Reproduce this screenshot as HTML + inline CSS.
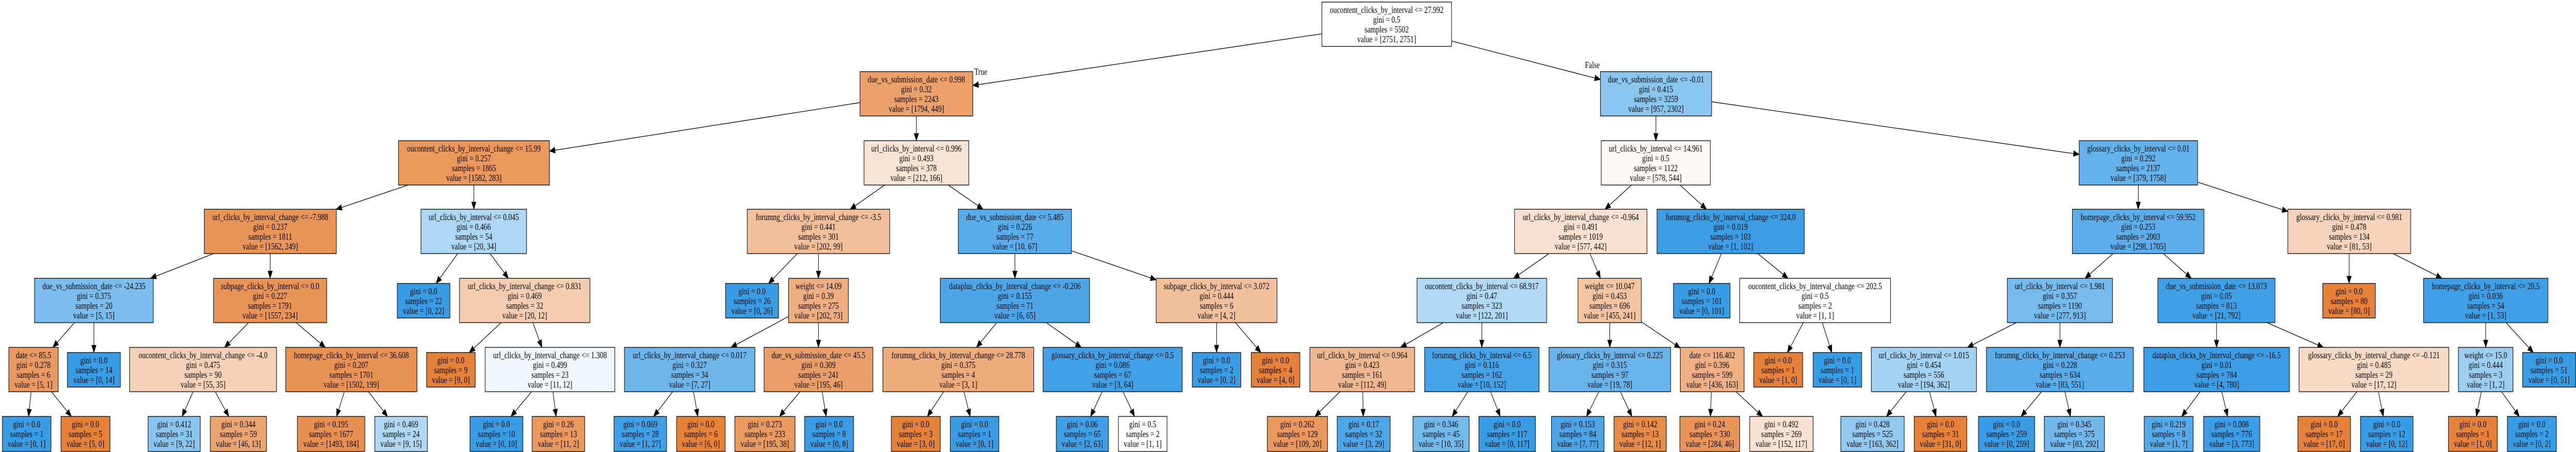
<!DOCTYPE html>
<html><head><meta charset="utf-8">
<style>
html,body{margin:0;padding:0;background:#fff;width:100%;height:100%;overflow:hidden;}
#s{display:block;position:absolute;left:0;top:0;width:100vw;height:100vh;}
svg text{font-family:"Liberation Serif","Times New Roman",serif;font-size:17.5px;text-anchor:middle;fill:#000;}
svg rect{stroke:#000;stroke-width:1.3;}
</style></head><body>
<svg id="s" xmlns="http://www.w3.org/2000/svg" viewBox="0 0 6419 877" preserveAspectRatio="none">
<rect x="0" y="0" width="6419" height="877" fill="#fff" style="stroke:none"/>
<g id="edges"></g>
<text x="2444" y="145">True</text>
<text x="3968" y="132">False</text>
<g id="nodes">
<svg id="n0" x="3294" y="4" width="323" height="86" overflow="visible"><rect width="100%" height="100%" fill="rgb(255,255,255)"/><text><tspan x="50%" y="21">oucontent_clicks_by_interval &lt;= 27.992</tspan><tspan x="50%" y="40">gini = 0.5</tspan><tspan x="50%" y="59">samples = 5502</tspan><tspan x="50%" y="78">value = [2751, 2751]</tspan></text></svg>
<svg id="n1" x="2143" y="139" width="281" height="86" overflow="visible"><rect width="100%" height="100%" fill="rgb(236,160,106)"/><text><tspan x="50%" y="21">due_vs_submission_date &lt;= 0.998</tspan><tspan x="50%" y="40">gini = 0.32</tspan><tspan x="50%" y="59">samples = 2243</tspan><tspan x="50%" y="78">value = [1794, 449]</tspan></text></svg>
<svg id="n2" x="993" y="273" width="376" height="86" overflow="visible"><rect width="100%" height="100%" fill="rgb(234,152,92)"/><text><tspan x="50%" y="21">oucontent_clicks_by_interval_change &lt;= 15.99</tspan><tspan x="50%" y="40">gini = 0.257</tspan><tspan x="50%" y="59">samples = 1865</tspan><tspan x="50%" y="78">value = [1582, 283]</tspan></text></svg>
<svg id="n3" x="509" y="406" width="329" height="86" overflow="visible"><rect width="100%" height="100%" fill="rgb(233,149,88)"/><text><tspan x="50%" y="21">url_clicks_by_interval_change &lt;= -7.988</tspan><tspan x="50%" y="40">gini = 0.237</tspan><tspan x="50%" y="59">samples = 1811</tspan><tspan x="50%" y="78">value = [1562, 249]</tspan></text></svg>
<svg id="n4" x="86" y="540" width="296" height="86" overflow="visible"><rect width="100%" height="100%" fill="rgb(123,190,238)"/><text><tspan x="50%" y="21">due_vs_submission_date &lt;= -24.235</tspan><tspan x="50%" y="40">gini = 0.375</tspan><tspan x="50%" y="59">samples = 20</tspan><tspan x="50%" y="78">value = [5, 15]</tspan></text></svg>
<svg id="n5" x="22" y="674" width="123" height="86" overflow="visible"><rect width="100%" height="100%" fill="rgb(234,154,97)"/><text><tspan x="50%" y="21">date &lt;= 85.5</tspan><tspan x="50%" y="40">gini = 0.278</tspan><tspan x="50%" y="59">samples = 6</tspan><tspan x="50%" y="78">value = [5, 1]</tspan></text></svg>
<svg id="n6" x="6" y="808" width="121" height="68" overflow="visible"><rect width="100%" height="100%" fill="rgb(57,157,229)"/><text><tspan x="50%" y="21">gini = 0.0</tspan><tspan x="50%" y="40">samples = 1</tspan><tspan x="50%" y="59">value = [0, 1]</tspan></text></svg>
<svg id="n7" x="152" y="808" width="122" height="68" overflow="visible"><rect width="100%" height="100%" fill="rgb(229,129,57)"/><text><tspan x="50%" y="21">gini = 0.0</tspan><tspan x="50%" y="40">samples = 5</tspan><tspan x="50%" y="59">value = [5, 0]</tspan></text></svg>
<svg id="n8" x="168" y="684" width="132" height="67" overflow="visible"><rect width="100%" height="100%" fill="rgb(57,157,229)"/><text><tspan x="50%" y="21">gini = 0.0</tspan><tspan x="50%" y="40">samples = 14</tspan><tspan x="50%" y="59">value = [0, 14]</tspan></text></svg>
<svg id="n9" x="532" y="540" width="282" height="86" overflow="visible"><rect width="100%" height="100%" fill="rgb(233,148,87)"/><text><tspan x="50%" y="21">subpage_clicks_by_interval &lt;= 0.0</tspan><tspan x="50%" y="40">gini = 0.227</tspan><tspan x="50%" y="59">samples = 1791</tspan><tspan x="50%" y="78">value = [1557, 234]</tspan></text></svg>
<svg id="n10" x="323" y="674" width="366" height="86" overflow="visible"><rect width="100%" height="100%" fill="rgb(246,209,183)"/><text><tspan x="50%" y="21">oucontent_clicks_by_interval_change &lt;= -4.0</tspan><tspan x="50%" y="40">gini = 0.475</tspan><tspan x="50%" y="59">samples = 90</tspan><tspan x="50%" y="78">value = [55, 35]</tspan></text></svg>
<svg id="n11" x="369" y="808" width="130" height="68" overflow="visible"><rect width="100%" height="100%" fill="rgb(138,197,240)"/><text><tspan x="50%" y="21">gini = 0.412</tspan><tspan x="50%" y="40">samples = 31</tspan><tspan x="50%" y="59">value = [9, 22]</tspan></text></svg>
<svg id="n12" x="524" y="808" width="140" height="68" overflow="visible"><rect width="100%" height="100%" fill="rgb(236,165,113)"/><text><tspan x="50%" y="21">gini = 0.344</tspan><tspan x="50%" y="40">samples = 59</tspan><tspan x="50%" y="59">value = [46, 13]</tspan></text></svg>
<svg id="n13" x="712" y="674" width="327" height="86" overflow="visible"><rect width="100%" height="100%" fill="rgb(232,146,83)"/><text><tspan x="50%" y="21">homepage_clicks_by_interval &lt;= 36.608</tspan><tspan x="50%" y="40">gini = 0.207</tspan><tspan x="50%" y="59">samples = 1701</tspan><tspan x="50%" y="78">value = [1502, 199]</tspan></text></svg>
<svg id="n14" x="741" y="808" width="168" height="68" overflow="visible"><rect width="100%" height="100%" fill="rgb(232,144,81)"/><text><tspan x="50%" y="21">gini = 0.195</tspan><tspan x="50%" y="40">samples = 1677</tspan><tspan x="50%" y="59">value = [1493, 184]</tspan></text></svg>
<svg id="n15" x="934" y="808" width="131" height="68" overflow="visible"><rect width="100%" height="100%" fill="rgb(176,216,245)"/><text><tspan x="50%" y="21">gini = 0.469</tspan><tspan x="50%" y="40">samples = 24</tspan><tspan x="50%" y="59">value = [9, 15]</tspan></text></svg>
<svg id="n16" x="1049" y="406" width="263" height="86" overflow="visible"><rect width="100%" height="100%" fill="rgb(173,215,244)"/><text><tspan x="50%" y="21">url_clicks_by_interval &lt;= 0.045</tspan><tspan x="50%" y="40">gini = 0.466</tspan><tspan x="50%" y="59">samples = 54</tspan><tspan x="50%" y="78">value = [20, 34]</tspan></text></svg>
<svg id="n17" x="990" y="550" width="131" height="67" overflow="visible"><rect width="100%" height="100%" fill="rgb(57,157,229)"/><text><tspan x="50%" y="21">gini = 0.0</tspan><tspan x="50%" y="40">samples = 22</tspan><tspan x="50%" y="59">value = [0, 22]</tspan></text></svg>
<svg id="n18" x="1145" y="540" width="325" height="86" overflow="visible"><rect width="100%" height="100%" fill="rgb(245,205,176)"/><text><tspan x="50%" y="21">url_clicks_by_interval_change &lt;= 0.831</tspan><tspan x="50%" y="40">gini = 0.469</tspan><tspan x="50%" y="59">samples = 32</tspan><tspan x="50%" y="78">value = [20, 12]</tspan></text></svg>
<svg id="n19" x="1063" y="684" width="121" height="67" overflow="visible"><rect width="100%" height="100%" fill="rgb(229,129,57)"/><text><tspan x="50%" y="21">gini = 0.0</tspan><tspan x="50%" y="40">samples = 9</tspan><tspan x="50%" y="59">value = [9, 0]</tspan></text></svg>
<svg id="n20" x="1209" y="674" width="323" height="86" overflow="visible"><rect width="100%" height="100%" fill="rgb(239,247,253)"/><text><tspan x="50%" y="21">url_clicks_by_interval_change &lt;= 1.308</tspan><tspan x="50%" y="40">gini = 0.499</tspan><tspan x="50%" y="59">samples = 23</tspan><tspan x="50%" y="78">value = [11, 12]</tspan></text></svg>
<svg id="n21" x="1171" y="808" width="132" height="68" overflow="visible"><rect width="100%" height="100%" fill="rgb(57,157,229)"/><text><tspan x="50%" y="21">gini = 0.0</tspan><tspan x="50%" y="40">samples = 10</tspan><tspan x="50%" y="59">value = [0, 10]</tspan></text></svg>
<svg id="n22" x="1326" y="808" width="131" height="68" overflow="visible"><rect width="100%" height="100%" fill="rgb(234,152,93)"/><text><tspan x="50%" y="21">gini = 0.26</tspan><tspan x="50%" y="40">samples = 13</tspan><tspan x="50%" y="59">value = [11, 2]</tspan></text></svg>
<svg id="n23" x="2153" y="273" width="261" height="86" overflow="visible"><rect width="100%" height="100%" fill="rgb(249,228,212)"/><text><tspan x="50%" y="21">url_clicks_by_interval &lt;= 0.996</tspan><tspan x="50%" y="40">gini = 0.493</tspan><tspan x="50%" y="59">samples = 378</tspan><tspan x="50%" y="78">value = [212, 166]</tspan></text></svg>
<svg id="n24" x="1862" y="406" width="355" height="86" overflow="visible"><rect width="100%" height="100%" fill="rgb(242,191,154)"/><text><tspan x="50%" y="21">forumng_clicks_by_interval_change &lt;= -3.5</tspan><tspan x="50%" y="40">gini = 0.441</tspan><tspan x="50%" y="59">samples = 301</tspan><tspan x="50%" y="78">value = [202, 99]</tspan></text></svg>
<svg id="n25" x="1808" y="550" width="132" height="67" overflow="visible"><rect width="100%" height="100%" fill="rgb(57,157,229)"/><text><tspan x="50%" y="21">gini = 0.0</tspan><tspan x="50%" y="40">samples = 26</tspan><tspan x="50%" y="59">value = [0, 26]</tspan></text></svg>
<svg id="n26" x="1965" y="540" width="149" height="86" overflow="visible"><rect width="100%" height="100%" fill="rgb(238,174,128)"/><text><tspan x="50%" y="21">weight &lt;= 14.09</tspan><tspan x="50%" y="40">gini = 0.39</tspan><tspan x="50%" y="59">samples = 275</tspan><tspan x="50%" y="78">value = [202, 73]</tspan></text></svg>
<svg id="n27" x="1556" y="674" width="325" height="86" overflow="visible"><rect width="100%" height="100%" fill="rgb(108,182,236)"/><text><tspan x="50%" y="21">url_clicks_by_interval_change &lt;= 0.017</tspan><tspan x="50%" y="40">gini = 0.327</tspan><tspan x="50%" y="59">samples = 34</tspan><tspan x="50%" y="78">value = [7, 27]</tspan></text></svg>
<svg id="n28" x="1530" y="808" width="131" height="68" overflow="visible"><rect width="100%" height="100%" fill="rgb(64,160,230)"/><text><tspan x="50%" y="21">gini = 0.069</tspan><tspan x="50%" y="40">samples = 28</tspan><tspan x="50%" y="59">value = [1, 27]</tspan></text></svg>
<svg id="n29" x="1686" y="808" width="121" height="68" overflow="visible"><rect width="100%" height="100%" fill="rgb(229,129,57)"/><text><tspan x="50%" y="21">gini = 0.0</tspan><tspan x="50%" y="40">samples = 6</tspan><tspan x="50%" y="59">value = [6, 0]</tspan></text></svg>
<svg id="n30" x="1904" y="674" width="271" height="86" overflow="visible"><rect width="100%" height="100%" fill="rgb(235,159,104)"/><text><tspan x="50%" y="21">due_vs_submission_date &lt;= 45.5</tspan><tspan x="50%" y="40">gini = 0.309</tspan><tspan x="50%" y="59">samples = 241</tspan><tspan x="50%" y="78">value = [195, 46]</tspan></text></svg>
<svg id="n31" x="1831" y="808" width="150" height="68" overflow="visible"><rect width="100%" height="100%" fill="rgb(234,154,95)"/><text><tspan x="50%" y="21">gini = 0.273</tspan><tspan x="50%" y="40">samples = 233</tspan><tspan x="50%" y="59">value = [195, 38]</tspan></text></svg>
<svg id="n32" x="2005" y="808" width="122" height="68" overflow="visible"><rect width="100%" height="100%" fill="rgb(57,157,229)"/><text><tspan x="50%" y="21">gini = 0.0</tspan><tspan x="50%" y="40">samples = 8</tspan><tspan x="50%" y="59">value = [0, 8]</tspan></text></svg>
<svg id="n33" x="2388" y="406" width="282" height="86" overflow="visible"><rect width="100%" height="100%" fill="rgb(87,172,233)"/><text><tspan x="50%" y="21">due_vs_submission_date &lt;= 5.485</tspan><tspan x="50%" y="40">gini = 0.226</tspan><tspan x="50%" y="59">samples = 77</tspan><tspan x="50%" y="78">value = [10, 67]</tspan></text></svg>
<svg id="n34" x="2343" y="540" width="372" height="86" overflow="visible"><rect width="100%" height="100%" fill="rgb(75,165,231)"/><text><tspan x="50%" y="21">dataplus_clicks_by_interval_change &lt;= -0.206</tspan><tspan x="50%" y="40">gini = 0.155</tspan><tspan x="50%" y="59">samples = 71</tspan><tspan x="50%" y="78">value = [6, 65]</tspan></text></svg>
<svg id="n35" x="2200" y="674" width="376" height="86" overflow="visible"><rect width="100%" height="100%" fill="rgb(238,171,123)"/><text><tspan x="50%" y="21">forumng_clicks_by_interval_change &lt;= 28.778</tspan><tspan x="50%" y="40">gini = 0.375</tspan><tspan x="50%" y="59">samples = 4</tspan><tspan x="50%" y="78">value = [3, 1]</tspan></text></svg>
<svg id="n36" x="2221" y="808" width="122" height="68" overflow="visible"><rect width="100%" height="100%" fill="rgb(229,129,57)"/><text><tspan x="50%" y="21">gini = 0.0</tspan><tspan x="50%" y="40">samples = 3</tspan><tspan x="50%" y="59">value = [3, 0]</tspan></text></svg>
<svg id="n37" x="2368" y="808" width="121" height="68" overflow="visible"><rect width="100%" height="100%" fill="rgb(57,157,229)"/><text><tspan x="50%" y="21">gini = 0.0</tspan><tspan x="50%" y="40">samples = 1</tspan><tspan x="50%" y="59">value = [0, 1]</tspan></text></svg>
<svg id="n38" x="2599" y="674" width="347" height="86" overflow="visible"><rect width="100%" height="100%" fill="rgb(66,161,230)"/><text><tspan x="50%" y="21">glossary_clicks_by_interval_change &lt;= 0.5</tspan><tspan x="50%" y="40">gini = 0.086</tspan><tspan x="50%" y="59">samples = 67</tspan><tspan x="50%" y="78">value = [3, 64]</tspan></text></svg>
<svg id="n39" x="2632" y="808" width="130" height="68" overflow="visible"><rect width="100%" height="100%" fill="rgb(63,160,230)"/><text><tspan x="50%" y="21">gini = 0.06</tspan><tspan x="50%" y="40">samples = 65</tspan><tspan x="50%" y="59">value = [2, 63]</tspan></text></svg>
<svg id="n40" x="2787" y="808" width="121" height="68" overflow="visible"><rect width="100%" height="100%" fill="rgb(255,255,255)"/><text><tspan x="50%" y="21">gini = 0.5</tspan><tspan x="50%" y="40">samples = 2</tspan><tspan x="50%" y="59">value = [1, 1]</tspan></text></svg>
<svg id="n41" x="2881" y="540" width="301" height="86" overflow="visible"><rect width="100%" height="100%" fill="rgb(242,192,156)"/><text><tspan x="50%" y="21">subpage_clicks_by_interval &lt;= 3.072</tspan><tspan x="50%" y="40">gini = 0.444</tspan><tspan x="50%" y="59">samples = 6</tspan><tspan x="50%" y="78">value = [4, 2]</tspan></text></svg>
<svg id="n42" x="2971" y="684" width="121" height="67" overflow="visible"><rect width="100%" height="100%" fill="rgb(57,157,229)"/><text><tspan x="50%" y="21">gini = 0.0</tspan><tspan x="50%" y="40">samples = 2</tspan><tspan x="50%" y="59">value = [0, 2]</tspan></text></svg>
<svg id="n43" x="3118" y="684" width="121" height="67" overflow="visible"><rect width="100%" height="100%" fill="rgb(229,129,57)"/><text><tspan x="50%" y="21">gini = 0.0</tspan><tspan x="50%" y="40">samples = 4</tspan><tspan x="50%" y="59">value = [4, 0]</tspan></text></svg>
<svg id="n44" x="3988" y="139" width="277" height="86" overflow="visible"><rect width="100%" height="100%" fill="rgb(139,198,240)"/><text><tspan x="50%" y="21">due_vs_submission_date &lt;= -0.01</tspan><tspan x="50%" y="40">gini = 0.415</tspan><tspan x="50%" y="59">samples = 3259</tspan><tspan x="50%" y="78">value = [957, 2302]</tspan></text></svg>
<svg id="n45" x="3990" y="273" width="272" height="86" overflow="visible"><rect width="100%" height="100%" fill="rgb(253,248,243)"/><text><tspan x="50%" y="21">url_clicks_by_interval &lt;= 14.961</tspan><tspan x="50%" y="40">gini = 0.5</tspan><tspan x="50%" y="59">samples = 1122</tspan><tspan x="50%" y="78">value = [578, 544]</tspan></text></svg>
<svg id="n46" x="3774" y="406" width="330" height="86" overflow="visible"><rect width="100%" height="100%" fill="rgb(249,225,209)"/><text><tspan x="50%" y="21">url_clicks_by_interval_change &lt;= -0.964</tspan><tspan x="50%" y="40">gini = 0.491</tspan><tspan x="50%" y="59">samples = 1019</tspan><tspan x="50%" y="78">value = [577, 442]</tspan></text></svg>
<svg id="n47" x="3531" y="540" width="323" height="86" overflow="visible"><rect width="100%" height="100%" fill="rgb(177,216,245)"/><text><tspan x="50%" y="21">oucontent_clicks_by_interval &lt;= 68.917</tspan><tspan x="50%" y="40">gini = 0.47</tspan><tspan x="50%" y="59">samples = 323</tspan><tspan x="50%" y="78">value = [122, 201]</tspan></text></svg>
<svg id="n48" x="3264" y="674" width="261" height="86" overflow="visible"><rect width="100%" height="100%" fill="rgb(240,184,144)"/><text><tspan x="50%" y="21">url_clicks_by_interval &lt;= 0.964</tspan><tspan x="50%" y="40">gini = 0.423</tspan><tspan x="50%" y="59">samples = 161</tspan><tspan x="50%" y="78">value = [112, 49]</tspan></text></svg>
<svg id="n49" x="3158" y="808" width="150" height="68" overflow="visible"><rect width="100%" height="100%" fill="rgb(234,152,93)"/><text><tspan x="50%" y="21">gini = 0.262</tspan><tspan x="50%" y="40">samples = 129</tspan><tspan x="50%" y="59">value = [109, 20]</tspan></text></svg>
<svg id="n50" x="3332" y="808" width="132" height="68" overflow="visible"><rect width="100%" height="100%" fill="rgb(77,166,232)"/><text><tspan x="50%" y="21">gini = 0.17</tspan><tspan x="50%" y="40">samples = 32</tspan><tspan x="50%" y="59">value = [3, 29]</tspan></text></svg>
<svg id="n51" x="3550" y="674" width="285" height="86" overflow="visible"><rect width="100%" height="100%" fill="rgb(70,163,231)"/><text><tspan x="50%" y="21">forumng_clicks_by_interval &lt;= 6.5</tspan><tspan x="50%" y="40">gini = 0.116</tspan><tspan x="50%" y="59">samples = 162</tspan><tspan x="50%" y="78">value = [10, 152]</tspan></text></svg>
<svg id="n52" x="3521" y="808" width="140" height="68" overflow="visible"><rect width="100%" height="100%" fill="rgb(114,185,236)"/><text><tspan x="50%" y="21">gini = 0.346</tspan><tspan x="50%" y="40">samples = 45</tspan><tspan x="50%" y="59">value = [10, 35]</tspan></text></svg>
<svg id="n53" x="3685" y="808" width="141" height="68" overflow="visible"><rect width="100%" height="100%" fill="rgb(57,157,229)"/><text><tspan x="50%" y="21">gini = 0.0</tspan><tspan x="50%" y="40">samples = 117</tspan><tspan x="50%" y="59">value = [0, 117]</tspan></text></svg>
<svg id="n54" x="3932" y="540" width="158" height="86" overflow="visible"><rect width="100%" height="100%" fill="rgb(243,196,162)"/><text><tspan x="50%" y="21">weight &lt;= 10.047</tspan><tspan x="50%" y="40">gini = 0.453</tspan><tspan x="50%" y="59">samples = 696</tspan><tspan x="50%" y="78">value = [455, 241]</tspan></text></svg>
<svg id="n55" x="3860" y="674" width="303" height="86" overflow="visible"><rect width="100%" height="100%" fill="rgb(105,181,235)"/><text><tspan x="50%" y="21">glossary_clicks_by_interval &lt;= 0.225</tspan><tspan x="50%" y="40">gini = 0.315</tspan><tspan x="50%" y="59">samples = 97</tspan><tspan x="50%" y="78">value = [19, 78]</tspan></text></svg>
<svg id="n56" x="3866" y="808" width="131" height="68" overflow="visible"><rect width="100%" height="100%" fill="rgb(75,165,231)"/><text><tspan x="50%" y="21">gini = 0.153</tspan><tspan x="50%" y="40">samples = 84</tspan><tspan x="50%" y="59">value = [7, 77]</tspan></text></svg>
<svg id="n57" x="4022" y="808" width="130" height="68" overflow="visible"><rect width="100%" height="100%" fill="rgb(231,139,72)"/><text><tspan x="50%" y="21">gini = 0.142</tspan><tspan x="50%" y="40">samples = 13</tspan><tspan x="50%" y="59">value = [12, 1]</tspan></text></svg>
<svg id="n58" x="4187" y="674" width="159" height="86" overflow="visible"><rect width="100%" height="100%" fill="rgb(239,176,131)"/><text><tspan x="50%" y="21">date &lt;= 116.402</tspan><tspan x="50%" y="40">gini = 0.396</tspan><tspan x="50%" y="59">samples = 599</tspan><tspan x="50%" y="78">value = [436, 163]</tspan></text></svg>
<svg id="n59" x="4186" y="808" width="149" height="68" overflow="visible"><rect width="100%" height="100%" fill="rgb(233,149,89)"/><text><tspan x="50%" y="21">gini = 0.24</tspan><tspan x="50%" y="40">samples = 330</tspan><tspan x="50%" y="59">value = [284, 46]</tspan></text></svg>
<svg id="n60" x="4360" y="808" width="158" height="68" overflow="visible"><rect width="100%" height="100%" fill="rgb(249,226,210)"/><text><tspan x="50%" y="21">gini = 0.492</tspan><tspan x="50%" y="40">samples = 269</tspan><tspan x="50%" y="59">value = [152, 117]</tspan></text></svg>
<svg id="n61" x="4129" y="406" width="367" height="86" overflow="visible"><rect width="100%" height="100%" fill="rgb(59,158,229)"/><text><tspan x="50%" y="21">forumng_clicks_by_interval_change &lt;= 324.0</tspan><tspan x="50%" y="40">gini = 0.019</tspan><tspan x="50%" y="59">samples = 103</tspan><tspan x="50%" y="78">value = [1, 102]</tspan></text></svg>
<svg id="n62" x="4170" y="550" width="141" height="67" overflow="visible"><rect width="100%" height="100%" fill="rgb(57,157,229)"/><text><tspan x="50%" y="21">gini = 0.0</tspan><tspan x="50%" y="40">samples = 101</tspan><tspan x="50%" y="59">value = [0, 101]</tspan></text></svg>
<svg id="n63" x="4335" y="540" width="376" height="86" overflow="visible"><rect width="100%" height="100%" fill="rgb(255,255,255)"/><text><tspan x="50%" y="21">oucontent_clicks_by_interval_change &lt;= 202.5</tspan><tspan x="50%" y="40">gini = 0.5</tspan><tspan x="50%" y="59">samples = 2</tspan><tspan x="50%" y="78">value = [1, 1]</tspan></text></svg>
<svg id="n64" x="4370" y="684" width="122" height="67" overflow="visible"><rect width="100%" height="100%" fill="rgb(229,129,57)"/><text><tspan x="50%" y="21">gini = 0.0</tspan><tspan x="50%" y="40">samples = 1</tspan><tspan x="50%" y="59">value = [1, 0]</tspan></text></svg>
<svg id="n65" x="4518" y="684" width="121" height="67" overflow="visible"><rect width="100%" height="100%" fill="rgb(57,157,229)"/><text><tspan x="50%" y="21">gini = 0.0</tspan><tspan x="50%" y="40">samples = 1</tspan><tspan x="50%" y="59">value = [0, 1]</tspan></text></svg>
<svg id="n66" x="5181" y="273" width="295" height="86" overflow="visible"><rect width="100%" height="100%" fill="rgb(100,178,235)"/><text><tspan x="50%" y="21">glossary_clicks_by_interval &lt;= 0.01</tspan><tspan x="50%" y="40">gini = 0.292</tspan><tspan x="50%" y="59">samples = 2137</tspan><tspan x="50%" y="78">value = [379, 1758]</tspan></text></svg>
<svg id="n67" x="5164" y="406" width="328" height="86" overflow="visible"><rect width="100%" height="100%" fill="rgb(92,174,234)"/><text><tspan x="50%" y="21">homepage_clicks_by_interval &lt;= 59.952</tspan><tspan x="50%" y="40">gini = 0.253</tspan><tspan x="50%" y="59">samples = 2003</tspan><tspan x="50%" y="78">value = [298, 1705]</tspan></text></svg>
<svg id="n68" x="5002" y="540" width="262" height="86" overflow="visible"><rect width="100%" height="100%" fill="rgb(117,187,237)"/><text><tspan x="50%" y="21">url_clicks_by_interval &lt;= 1.981</tspan><tspan x="50%" y="40">gini = 0.357</tspan><tspan x="50%" y="59">samples = 1190</tspan><tspan x="50%" y="78">value = [277, 913]</tspan></text></svg>
<svg id="n69" x="4663" y="674" width="262" height="86" overflow="visible"><rect width="100%" height="100%" fill="rgb(163,210,243)"/><text><tspan x="50%" y="21">url_clicks_by_interval &lt;= 1.015</tspan><tspan x="50%" y="40">gini = 0.454</tspan><tspan x="50%" y="59">samples = 556</tspan><tspan x="50%" y="78">value = [194, 362]</tspan></text></svg>
<svg id="n70" x="4587" y="808" width="158" height="68" overflow="visible"><rect width="100%" height="100%" fill="rgb(146,201,241)"/><text><tspan x="50%" y="21">gini = 0.428</tspan><tspan x="50%" y="40">samples = 525</tspan><tspan x="50%" y="59">value = [163, 362]</tspan></text></svg>
<svg id="n71" x="4770" y="808" width="131" height="68" overflow="visible"><rect width="100%" height="100%" fill="rgb(229,129,57)"/><text><tspan x="50%" y="21">gini = 0.0</tspan><tspan x="50%" y="40">samples = 31</tspan><tspan x="50%" y="59">value = [31, 0]</tspan></text></svg>
<svg id="n72" x="4950" y="674" width="366" height="86" overflow="visible"><rect width="100%" height="100%" fill="rgb(87,172,233)"/><text><tspan x="50%" y="21">forumng_clicks_by_interval_change &lt;= 0.253</tspan><tspan x="50%" y="40">gini = 0.228</tspan><tspan x="50%" y="59">samples = 634</tspan><tspan x="50%" y="78">value = [83, 551]</tspan></text></svg>
<svg id="n73" x="4930" y="808" width="140" height="68" overflow="visible"><rect width="100%" height="100%" fill="rgb(57,157,229)"/><text><tspan x="50%" y="21">gini = 0.0</tspan><tspan x="50%" y="40">samples = 259</tspan><tspan x="50%" y="59">value = [0, 259]</tspan></text></svg>
<svg id="n74" x="5094" y="808" width="150" height="68" overflow="visible"><rect width="100%" height="100%" fill="rgb(113,185,236)"/><text><tspan x="50%" y="21">gini = 0.345</tspan><tspan x="50%" y="40">samples = 375</tspan><tspan x="50%" y="59">value = [83, 292]</tspan></text></svg>
<svg id="n75" x="5377" y="540" width="292" height="86" overflow="visible"><rect width="100%" height="100%" fill="rgb(62,160,230)"/><text><tspan x="50%" y="21">due_vs_submission_date &lt;= 13.073</tspan><tspan x="50%" y="40">gini = 0.05</tspan><tspan x="50%" y="59">samples = 813</tspan><tspan x="50%" y="78">value = [21, 792]</tspan></text></svg>
<svg id="n76" x="5342" y="674" width="363" height="86" overflow="visible"><rect width="100%" height="100%" fill="rgb(58,157,229)"/><text><tspan x="50%" y="21">dataplus_clicks_by_interval_change &lt;= -16.5</tspan><tspan x="50%" y="40">gini = 0.01</tspan><tspan x="50%" y="59">samples = 784</tspan><tspan x="50%" y="78">value = [4, 780]</tspan></text></svg>
<svg id="n77" x="5343" y="808" width="122" height="68" overflow="visible"><rect width="100%" height="100%" fill="rgb(85,171,233)"/><text><tspan x="50%" y="21">gini = 0.219</tspan><tspan x="50%" y="40">samples = 8</tspan><tspan x="50%" y="59">value = [1, 7]</tspan></text></svg>
<svg id="n78" x="5491" y="808" width="140" height="68" overflow="visible"><rect width="100%" height="100%" fill="rgb(58,157,229)"/><text><tspan x="50%" y="21">gini = 0.008</tspan><tspan x="50%" y="40">samples = 776</tspan><tspan x="50%" y="59">value = [3, 773]</tspan></text></svg>
<svg id="n79" x="5729" y="674" width="373" height="86" overflow="visible"><rect width="100%" height="100%" fill="rgb(247,218,197)"/><text><tspan x="50%" y="21">glossary_clicks_by_interval_change &lt;= -0.121</tspan><tspan x="50%" y="40">gini = 0.485</tspan><tspan x="50%" y="59">samples = 29</tspan><tspan x="50%" y="78">value = [17, 12]</tspan></text></svg>
<svg id="n80" x="5726" y="808" width="131" height="68" overflow="visible"><rect width="100%" height="100%" fill="rgb(229,129,57)"/><text><tspan x="50%" y="21">gini = 0.0</tspan><tspan x="50%" y="40">samples = 17</tspan><tspan x="50%" y="59">value = [17, 0]</tspan></text></svg>
<svg id="n81" x="5882" y="808" width="131" height="68" overflow="visible"><rect width="100%" height="100%" fill="rgb(57,157,229)"/><text><tspan x="50%" y="21">gini = 0.0</tspan><tspan x="50%" y="40">samples = 12</tspan><tspan x="50%" y="59">value = [0, 12]</tspan></text></svg>
<svg id="n82" x="5701" y="406" width="306" height="86" overflow="visible"><rect width="100%" height="100%" fill="rgb(246,211,186)"/><text><tspan x="50%" y="21">glossary_clicks_by_interval &lt;= 0.981</tspan><tspan x="50%" y="40">gini = 0.478</tspan><tspan x="50%" y="59">samples = 134</tspan><tspan x="50%" y="78">value = [81, 53]</tspan></text></svg>
<svg id="n83" x="5788" y="550" width="131" height="67" overflow="visible"><rect width="100%" height="100%" fill="rgb(229,129,57)"/><text><tspan x="50%" y="21">gini = 0.0</tspan><tspan x="50%" y="40">samples = 80</tspan><tspan x="50%" y="59">value = [80, 0]</tspan></text></svg>
<svg id="n84" x="6039" y="540" width="310" height="86" overflow="visible"><rect width="100%" height="100%" fill="rgb(61,159,230)"/><text><tspan x="50%" y="21">homepage_clicks_by_interval &lt;= 20.5</tspan><tspan x="50%" y="40">gini = 0.036</tspan><tspan x="50%" y="59">samples = 54</tspan><tspan x="50%" y="78">value = [1, 53]</tspan></text></svg>
<svg id="n85" x="6126" y="674" width="136" height="86" overflow="visible"><rect width="100%" height="100%" fill="rgb(156,206,242)"/><text><tspan x="50%" y="21">weight &lt;= 15.0</tspan><tspan x="50%" y="40">gini = 0.444</tspan><tspan x="50%" y="59">samples = 3</tspan><tspan x="50%" y="78">value = [1, 2]</tspan></text></svg>
<svg id="n86" x="6101" y="808" width="122" height="68" overflow="visible"><rect width="100%" height="100%" fill="rgb(229,129,57)"/><text><tspan x="50%" y="21">gini = 0.0</tspan><tspan x="50%" y="40">samples = 1</tspan><tspan x="50%" y="59">value = [1, 0]</tspan></text></svg>
<svg id="n87" x="6248" y="808" width="122" height="68" overflow="visible"><rect width="100%" height="100%" fill="rgb(57,157,229)"/><text><tspan x="50%" y="21">gini = 0.0</tspan><tspan x="50%" y="40">samples = 2</tspan><tspan x="50%" y="59">value = [0, 2]</tspan></text></svg>
<svg id="n88" x="6286" y="684" width="132" height="67" overflow="visible"><rect width="100%" height="100%" fill="rgb(57,157,229)"/><text><tspan x="50%" y="21">gini = 0.0</tspan><tspan x="50%" y="40">samples = 51</tspan><tspan x="50%" y="59">value = [0, 51]</tspan></text></svg>
</g>
</svg>
<script>
(function(){
var s=document.getElementById("s");
var W=window.innerWidth||document.documentElement.clientWidth,H=window.innerHeight||document.documentElement.clientHeight;
if(W&&H){s.style.width=W+"px";s.style.height=H+"px";}
var E=[[0,1],[0,44],[1,2],[1,23],[2,3],[2,16],[3,4],[3,9],[4,5],[4,8],[5,6],[5,7],[9,10],[9,13],[10,11],[10,12],[13,14],[13,15],[16,17],[16,18],[18,19],[18,20],[20,21],[20,22],[23,24],[23,33],[24,25],[24,26],[26,27],[26,30],[27,28],[27,29],[30,31],[30,32],[33,34],[33,41],[34,35],[34,38],[35,36],[35,37],[38,39],[38,40],[41,42],[41,43],[44,45],[44,66],[45,46],[45,61],[46,47],[46,54],[47,48],[47,51],[48,49],[48,50],[51,52],[51,53],[54,55],[54,58],[55,56],[55,57],[58,59],[58,60],[61,62],[61,63],[63,64],[63,65],[66,67],[66,82],[67,68],[67,75],[68,69],[68,72],[69,70],[69,71],[72,73],[72,74],[75,76],[75,79],[76,77],[76,78],[79,80],[79,81],[82,83],[82,84],[84,85],[84,88],[85,86],[85,87]];
var NS="http://www.w3.org/2000/svg",g=document.getElementById("edges");
function box(i){var n=document.getElementById("n"+i);var x=+n.getAttribute("x"),y=+n.getAttribute("y"),w=+n.getAttribute("width"),h=+n.getAttribute("height");return{cx:x+w/2,cy:y+h/2,hw:w/2,hh:h/2};}
function clip(b,dx,dy){var t=Infinity;if(dx!==0)t=Math.min(t,b.hw/Math.abs(dx));if(dy!==0)t=Math.min(t,b.hh/Math.abs(dy));return[b.cx+dx*t,b.cy+dy*t];}
E.forEach(function(e){var a=box(e[0]),b=box(e[1]);var dx=b.cx-a.cx,dy=b.cy-a.cy;
var p=clip(a,dx,dy),q=clip(b,-dx,-dy);var L=Math.hypot(q[0]-p[0],q[1]-p[1]);var ux=(q[0]-p[0])/L,uy=(q[1]-p[1])/L;
var al=14,aw=5.5;var bx=q[0]-ux*al,by=q[1]-uy*al;
var l=document.createElementNS(NS,"line");l.setAttribute("x1",p[0]);l.setAttribute("y1",p[1]);l.setAttribute("x2",bx);l.setAttribute("y2",by);l.setAttribute("stroke","#000");l.setAttribute("stroke-width","1.3");g.appendChild(l);
var pg=document.createElementNS(NS,"polygon");pg.setAttribute("points",q[0]+","+q[1]+" "+(bx-uy*aw)+","+(by+ux*aw)+" "+(bx+uy*aw)+","+(by-ux*aw));pg.setAttribute("fill","#000");pg.setAttribute("stroke","#000");g.appendChild(pg);});
})();
</script>
</body></html>
